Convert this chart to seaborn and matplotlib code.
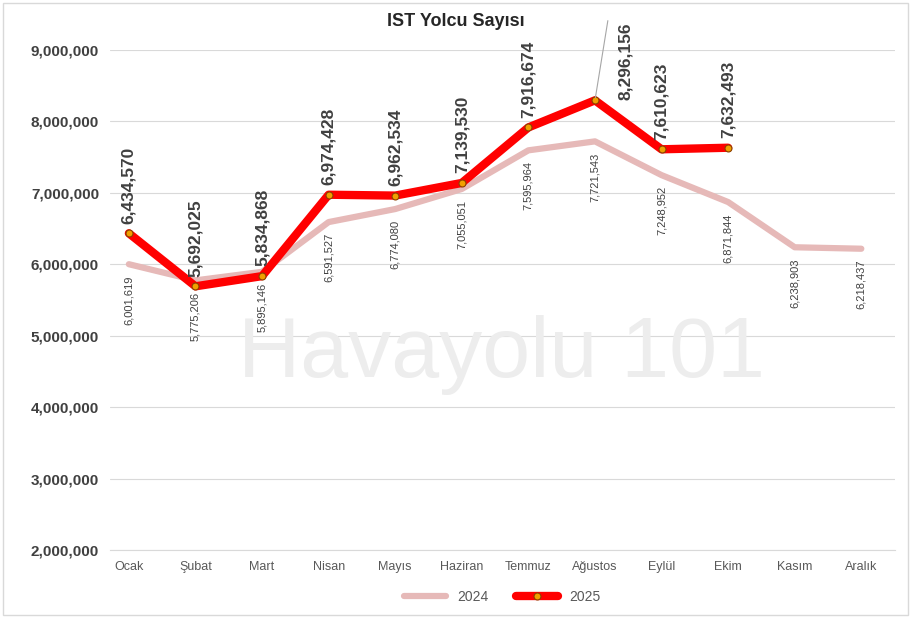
import matplotlib
matplotlib.use("Agg")
import matplotlib.pyplot as plt
import seaborn as sns
import pandas as pd
from matplotlib.ticker import FuncFormatter

months = ["Ocak","Şubat","Mart","Nisan","Mayıs","Haziran","Temmuz","Ağustos","Eylül","Ekim","Kasım","Aralık"]
y2024 = [6001619,5775206,5895146,6591527,6774080,7055051,7595964,7721543,7248952,6871844,6238903,6218437]
y2025 = [6434570,5692025,5834868,6974428,6962534,7139530,7916674,8296156,7610623,7632493]

sns.set_style("white")
plt.rcParams['font.family'] = ['Liberation Sans', 'DejaVu Sans']

fig = plt.figure(figsize=(9.11,6.18), dpi=100)
ax = fig.add_axes([0.121, 0.11, 0.861, 0.809])
d24 = pd.DataFrame({"m": range(12), "v": y2024})
d25 = pd.DataFrame({"m": range(10), "v": y2025})
sns.lineplot(data=d24, x="m", y="v", ax=ax, color="#E6B9B8", lw=4.5, label="2024")
sns.lineplot(data=d25, x="m", y="v", ax=ax, color="#FF0000", lw=6, label="2025",
             marker="o", markersize=5, markerfacecolor="#F0A000", markeredgecolor="#8B4000", markeredgewidth=0.8)
ax.set_xlim(-0.28, 11.5); ax.set_ylim(2e6, 9e6)
ax.set_xticks(range(12)); ax.set_xticklabels(months)
ax.set_yticks(range(2000000, 9000001, 1000000))
ax.yaxis.set_major_formatter(FuncFormatter(lambda v, p: f"{int(v):,}"))
ax.tick_params(axis='y', labelsize=11, colors="#404040", length=0, pad=8)
ax.tick_params(axis='x', labelsize=9, colors="#595959", length=0, pad=8)
for t in ax.get_yticklabels(): t.set_fontweight("bold")
ax.grid(axis='y', color="#D9D9D9", lw=0.8)
ax.set_axisbelow(True)
for s in ["top","right","left"]: ax.spines[s].set_visible(False)
ax.spines["bottom"].set_color("#D9D9D9")
ax.set_xlabel(""); ax.set_ylabel("")
for i, v in enumerate(y2024):
    ax.annotate(f"{v:,}", (i, v), xytext=(0, -8), textcoords="offset points", rotation=90,
                ha="center", va="top", fontsize=8, color="#404040")
for i, v in enumerate(y2025):
    if i == 7:
        ax.annotate(f"{v:,}", (i, v), xytext=(22, 0), textcoords="offset points", rotation=90,
                    ha="center", va="bottom", fontsize=12.5, fontweight="bold", color="#404040",
                    annotation_clip=False)
        ax.annotate("", (i, v), xytext=(i+0.2, 9.45e6), textcoords="data",
                    arrowprops=dict(arrowstyle="-", color="#A6A6A6", lw=0.8), annotation_clip=False)
    else:
        ax.annotate(f"{v:,}", (i, v), xytext=(0, 7), textcoords="offset points", rotation=90,
                    ha="center", va="bottom", fontsize=12.5, fontweight="bold", color="#404040",
                    annotation_clip=False)
fig.text(0.55, 0.425, "Havayolu 101", fontsize=62, color="#EDEDED", ha="center", va="center", zorder=0)
fig.text(0.5, 0.965, "IST Yolcu Sayısı", fontsize=13, fontweight="bold", ha="center", va="center")
ax.legend(loc="upper center", bbox_to_anchor=(0.5, -0.055), ncol=2, frameon=False, fontsize=10,
          handlelength=3, labelcolor="#595959")
fig.patches.append(plt.Rectangle((0.003,0.005),0.994,0.99, transform=fig.transFigure, fill=False,
                                 edgecolor="#D9D9D9", lw=1))
fig.savefig("out.png", dpi=100)
